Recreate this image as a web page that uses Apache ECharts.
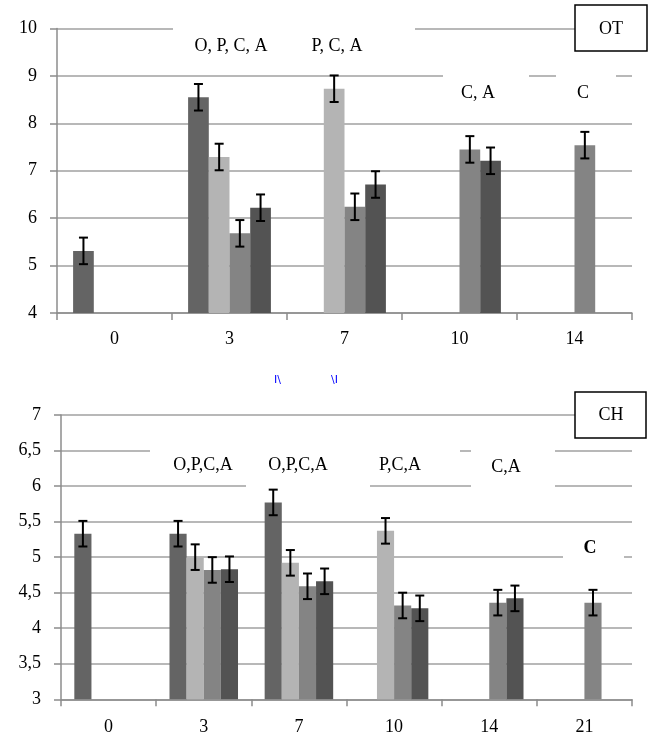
<!DOCTYPE html>
<html>
<head>
<meta charset="utf-8">
<script src="https://cdn.jsdelivr.net/npm/echarts@6/dist/echarts.min.js"></script>
<style>
  html, body { margin: 0; padding: 0; background: #fff; }
  #main { width: 656px; height: 737px; }
</style>
</head>
<body>
<div id="main"></div>
<script>
// top panel (OT)
var daysOT = ['0', '3', '7', '10', '14'];
var otO = [5.31, 8.55, null, null, null];
var otP = [null, 7.29, 8.73, null, null];
var otC = [null, 5.68, 6.24, 7.45, 7.54];
var otA = [null, 6.22, 6.71, 7.21, null];
var otErr = 0.28;

// bottom panel (CH)
var daysCH = ['0', '3', '7', '10', '14', '21'];
var chO = [5.33, 5.33, 5.77, null, null, null];
var chP = [null, 5.00, 4.92, 5.37, null, null];
var chC = [null, 4.82, 4.59, 4.32, 4.36, 4.36];
var chA = [null, 4.83, 4.66, 4.28, 4.42, null];
var chErr = 0.18;

var colors = ['#646464', '#b4b4b4', '#848484', '#535353'];
var font = 'Liberation Serif';

var myChart = echarts.init(document.getElementById('main'));

function barSeries(data, k, gi) {
  return {
    type: 'bar',
    xAxisIndex: gi, yAxisIndex: gi,
    data: data,
    barGap: '0%',
    barCategoryGap: '28%',
    itemStyle: { color: colors[k] },
    z: 2
  };
}

function errSeries(data, err, k, gi) {
  var pts = [];
  data.forEach(function (v, i) {
    if (v != null) pts.push([i, v, err]);
  });
  return {
    type: 'custom',
    xAxisIndex: gi, yAxisIndex: gi,
    data: pts,
    z: 5,
    renderItem: function (params, api) {
      var i = api.value(0), v = api.value(1), e = api.value(2);
      var c = api.coord([i, v]);
      var band = api.size([1, 0])[0];
      var bw = band * 0.72 / 4;
      var x = c[0] + (k - 1.5) * bw;
      var yt = api.coord([i, v + e])[1];
      var yb = api.coord([i, v - e])[1];
      var st = { stroke: '#000', lineWidth: 2 };
      return {
        type: 'group',
        children: [
          { type: 'line', shape: { x1: x, y1: yt, x2: x, y2: yb }, style: st },
          { type: 'line', shape: { x1: x - 4.5, y1: yt, x2: x + 4.5, y2: yt }, style: st },
          { type: 'line', shape: { x1: x - 4.5, y1: yb, x2: x + 4.5, y2: yb }, style: st }
        ]
      };
    }
  };
}

function mask(x, y, w, h) {
  return { type: 'rect', z: 50, shape: { x: x, y: y, width: w, height: h }, style: { fill: '#fff' } };
}
function label(t, x, y, bold) {
  return {
    type: 'text', z: 60, x: x, y: y,
    style: { text: t, font: (bold ? 'bold ' : '') + '18px "' + font + '"', fill: '#000', align: 'center', verticalAlign: 'middle' }
  };
}

var axisCommon = {
  axisLine: { show: true, lineStyle: { color: '#8c8c8c', width: 1.5 } },
  axisTick: { show: true, length: 7, lineStyle: { color: '#8c8c8c', width: 1.5 } },
  axisLabel: { color: '#000', fontFamily: font, fontSize: 18 },
  splitLine: { show: false }
};

var option = {
  animation: false,
  backgroundColor: '#fff',
  grid: [
    { left: 57, right: 24, top: 28.5, height: 284.5 },
    { left: 61, right: 24, top: 415, height: 284.3 }
  ],
  xAxis: [
    echarts.util.merge({ type: 'category', gridIndex: 0, data: daysOT, axisLabel: { margin: 17 } }, axisCommon),
    echarts.util.merge({ type: 'category', gridIndex: 1, data: daysCH, axisLabel: { margin: 19 } }, axisCommon)
  ],
  yAxis: [
    echarts.util.merge({
      type: 'value', gridIndex: 0, min: 4, max: 10, interval: 1,
      axisLabel: { margin: 20 },
      splitLine: { show: true, lineStyle: { color: '#a0a0a0', width: 1.5 } }
    }, axisCommon),
    echarts.util.merge({
      type: 'value', gridIndex: 1, min: 3, max: 7, interval: 0.5,
      axisLabel: { margin: 20, formatter: function (v) { return String(v).replace('.', ','); } },
      splitLine: { show: true, lineStyle: { color: '#a0a0a0', width: 1.5 } }
    }, axisCommon)
  ],
  series: [
    barSeries(otO, 0, 0), barSeries(otP, 1, 0), barSeries(otC, 2, 0), barSeries(otA, 3, 0),
    barSeries(chO, 0, 1), barSeries(chP, 1, 1), barSeries(chC, 2, 1), barSeries(chA, 3, 1),
    errSeries(otO, otErr, 0, 0), errSeries(otP, otErr, 1, 0), errSeries(otC, otErr, 2, 0), errSeries(otA, otErr, 3, 0),
    errSeries(chO, chErr, 0, 1), errSeries(chP, chErr, 1, 1), errSeries(chC, chErr, 2, 1), errSeries(chA, chErr, 3, 1)
  ],
  graphic: [
    // top panel text boxes
    mask(173, 18, 242, 52),
    mask(443, 70, 86, 44),
    mask(556, 70, 60, 44),
    label('O, P, C, A', 231, 46),
    label('P, C, A', 337, 46),
    label('C, A', 478, 93),
    label('C', 583, 93),
    { type: 'rect', z: 60, shape: { x: 575, y: 5, width: 72, height: 46 }, style: { fill: '#fff', stroke: '#000', lineWidth: 1.5 } },
    label('OT', 611, 29),
    // stray marks between panels
    { type: 'text', z: 60, x: 274, y: 375, style: { text: 'I\\', font: '11px "DejaVu Sans"', fill: '#0000ff' } },
    { type: 'text', z: 60, x: 331, y: 375, style: { text: '\\I', font: '11px "DejaVu Sans"', fill: '#0000ff' } },
    // bottom panel text boxes
    mask(150, 440, 96, 40),
    mask(246, 440, 124, 48),
    mask(370, 440, 90, 40),
    mask(471, 440, 84, 48),
    mask(563, 535, 61, 40),
    label('O,P,C,A', 203, 465),
    label('O,P,C,A', 298, 465),
    label('P,C,A', 400, 465),
    label('C,A', 506, 467),
    label('C', 590, 548, true),
    { type: 'rect', z: 60, shape: { x: 575, y: 392, width: 71, height: 46 }, style: { fill: '#fff', stroke: '#000', lineWidth: 1.5 } },
    label('CH', 611, 415)
  ]
};

myChart.setOption(option);
</script>
</body>
</html>
